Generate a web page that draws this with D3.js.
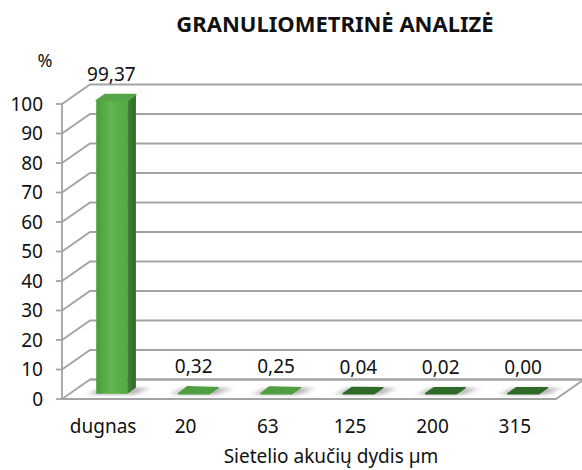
<!DOCTYPE html>
<html><head><meta charset="utf-8">
<script src="https://cdn.jsdelivr.net/npm/d3@7"></script>
<style>body{margin:0;background:#fff}svg{display:block}</style>
</head><body>
<script>
const categories = ["dugnas","20","63","125","200","315"];
const values = [99.37,0.32,0.25,0.04,0.02,0.00];
const valueLabels = ["99,37","0,32","0,25","0,04","0,02","0,00"];
const yTicks = [0,10,20,30,40,50,60,70,80,90,100];
const title = "GRANULIOMETRINĖ ANALIZĖ";
const xTitle = "Sietelio akučių dydis µm";
const yTitle = "%";

const W=582,H=470;
const FONT='"Noto Sans", sans-serif';
const FS=19;
const svg=d3.select("body").append("svg").attr("width",W).attr("height",H);
const left=62, right=556, DX=28, DY=19.5;
const x=d3.scaleBand().domain(categories).range([left,right]).paddingInner(0).paddingOuter(0);
const y=d3.scaleLinear().domain([0,100]).range([399,104]);
const P=(px,v,f)=>[px+DX*f, y(v)-DY*f];

const defs=svg.append("defs");
const gf=defs.append("linearGradient").attr("id","front").attr("x1",0).attr("x2",1).attr("y1",0).attr("y2",0);
gf.append("stop").attr("offset",0).attr("stop-color","#4a9c3c");
gf.append("stop").attr("offset",0.45).attr("stop-color","#62b650");
gf.append("stop").attr("offset",1).attr("stop-color","#54a845");
const gs=defs.append("linearGradient").attr("id","side").attr("x1",0).attr("x2",1);
gs.append("stop").attr("offset",0).attr("stop-color","#3f8234");
gs.append("stop").attr("offset",1).attr("stop-color","#2f6a28");
defs.append("filter").attr("id","blur").attr("x","-50%").attr("y","-200%").attr("width","200%").attr("height","500%")
  .append("feGaussianBlur").attr("stdDeviation","4 1.5");

const grid=svg.append("g").attr("fill","none").attr("stroke","#a3a3a3").attr("stroke-width",1.8);
const f0=P(left,0,0),f1=P(right,0,0),f2=P(right,0,1),f3=P(left,0,1);
grid.append("path").attr("d",`M${f0}L${f1}L${f2}L${f3}Z`).attr("fill","#fff");
yTicks.filter(v=>v>0).forEach(v=>{
  const a=P(left,v,0),b=P(left,v,1),c=[W+5,b[1]];
  grid.append("path").attr("d",`M${a}L${b}L${c}`);
});
grid.append("path").attr("d",`M${f3}L${W+5},${f3[1]}`);
grid.append("line").attr("x1",left).attr("x2",left).attr("y1",y(100)).attr("y2",y(0));
yTicks.forEach(v=>{
  grid.append("line").attr("x1",left-6).attr("x2",left).attr("y1",y(v)).attr("y2",y(v));
  svg.append("text").attr("x",43).attr("y",y(v)).attr("dy","0.36em").attr("text-anchor","end")
    .attr("font-family",FONT).attr("font-size",FS).attr("fill","#111").text(v);
});

const bw=31, fA=0.27, fB=0.58;
categories.forEach((c,i)=>{
  const v=values[i];
  const cx=x(c)+x.bandwidth()/2;
  const x0=cx-bw/2+1, x1=cx+bw/2+1;
  const g=svg.append("g");
  const s0=P(x0-6,0,fA-0.05),s1=P(x1+10,0,fA-0.05),s2=P(x1+12,0,fB),s3=P(x0-4,0,fB);
  g.append("path").attr("d",`M${s0}L${s1}L${s2}L${s3}Z`).attr("fill","#9a9a9a").attr("opacity",0.7).attr("filter","url(#blur)");
  const a=P(x0,0,fA),b=P(x1,0,fA),bt=P(x1,v,fA),at=P(x0,v,fA);
  const bb=P(x1,0,fB),bbt=P(x1,v,fB),abt=P(x0,v,fB);
  const tall=y(0)-y(v)>3;
  if(tall){
    g.append("path").attr("d",`M${a}L${b}L${bt}L${at}Z`).attr("fill","url(#front)");
    g.append("path").attr("d",`M${b}L${bb}L${bbt}L${bt}Z`).attr("fill","url(#side)");
    g.append("path").attr("d",`M${at}L${bt}L${bbt}L${abt}Z`).attr("fill","#55a446").attr("stroke","#55a446").attr("stroke-width",1.5).attr("stroke-linejoin","round");
  } else {
    const col = v>=0.1 ? "#4f9e40" : "#2f6a29";
    g.append("path").attr("d",`M${a}L${b}L${bb}L${abt}Z`).attr("fill",col).attr("stroke",col).attr("stroke-width",1.5).attr("stroke-linejoin","round");
  }
  const lp=P(cx,v,0.4);
  svg.append("text").attr("x",lp[0]-3).attr("y",lp[1]-17).attr("text-anchor","middle")
    .attr("font-family",FONT).attr("font-size",FS).attr("fill","#111").text(valueLabels[i]);
  svg.append("text").attr("x",cx).attr("y",433).attr("text-anchor","middle")
    .attr("font-family",FONT).attr("font-size",FS).attr("fill","#111").text(c);
});

svg.append("text").attr("x",335).attr("y",32).attr("text-anchor","middle")
  .attr("font-family",FONT).attr("font-weight","bold").attr("font-size",22).attr("fill","#111").text(title);
svg.append("text").attr("x",331).attr("y",463).attr("text-anchor","middle")
  .attr("font-family",FONT).attr("font-size",FS).attr("fill","#111").text(xTitle);
svg.append("text").attr("x",45).attr("y",67).attr("text-anchor","middle")
  .attr("font-family",FONT).attr("font-size",18).attr("fill","#111").text(yTitle);
</script>
</body></html>
